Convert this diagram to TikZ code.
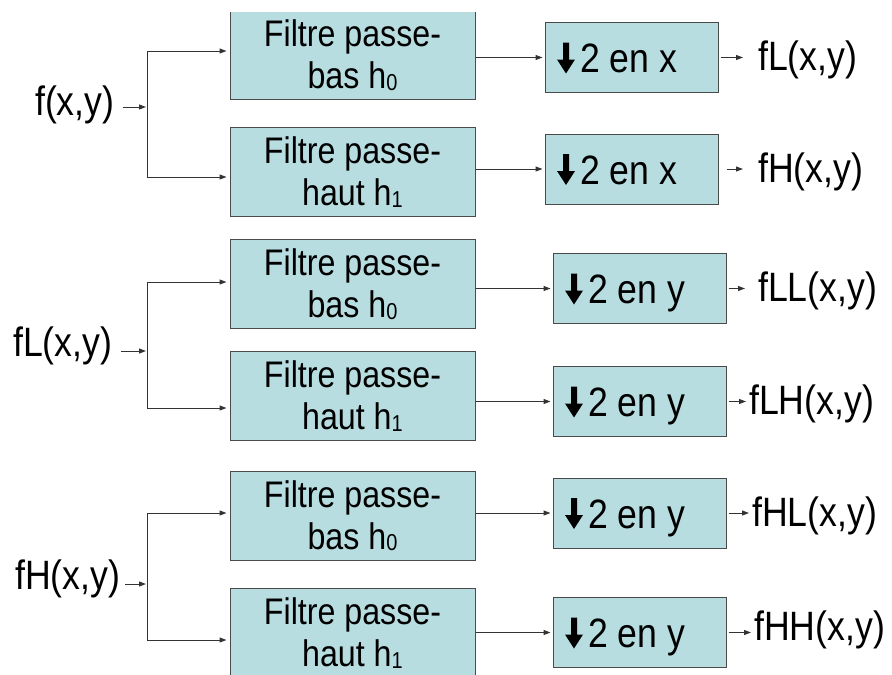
\documentclass[tikz,border=0pt]{standalone}
\usepackage{fontspec}
\setmainfont{Liberation Sans}
\newfontfamily\tallfont{Liberation Sans}[FakeStretch=0.87]
\usetikzlibrary{arrows.meta}
\definecolor{boxfill}{HTML}{B7DDE1}
\definecolor{boxline}{HTML}{4A4A4A}
\definecolor{wirecol}{HTML}{333333}
\newcommand{\dnarr}{\tikz[baseline=0pt]\fill[black] (-3pt,30pt) -- (3pt,30pt) -- (3pt,13pt) -- (9pt,13pt) -- (0pt,-1pt) -- (-9pt,13pt) -- (-3pt,13pt) -- cycle;}
\newcommand{\lowsub}[1]{\raisebox{-1.5pt}{\fontsize{23}{23}\selectfont #1}}
\newcommand{\dstext}[1]{\makebox[149pt][l]{\dnarr\hspace{5pt}#1}}
\begin{document}
\begin{tikzpicture}[x=1pt,y=-1pt,
  filt/.style={draw=boxline, fill=boxfill, line width=1pt, minimum width=245pt, minimum height=89pt, inner sep=0pt, align=center, font=\tallfont\fontsize{37}{42}\selectfont},
  down/.style={draw=boxline, fill=boxfill, line width=1pt, minimum width=173pt, minimum height=70pt, inner sep=0pt, font=\tallfont\fontsize{41}{44}\selectfont, text height=30pt, text depth=0pt},
  lab/.style={inner sep=0pt, font=\tallfont\fontsize{41}{44}\selectfont, anchor=west},
  wire/.style={draw=wirecol, line width=1pt},
  arr/.style={wire, -{Triangle[length=7pt,width=5pt]}}]
\useasboundingbox (0,0) rectangle (892,675);
\begin{scope}
\clip (0,12) rectangle (892,675);
% filters
\node[filt] (f1) at (352.5,55) {Filtre passe-\\bas h\lowsub{0}};
\node[filt] (f2) at (352.5,172) {Filtre passe-\\haut h\lowsub{1}};
\node[filt] (f3) at (352.5,284) {Filtre passe-\\bas h\lowsub{0}};
\node[filt] (f4) at (352.5,396) {Filtre passe-\\haut h\lowsub{1}};
\node[filt] (f5) at (352.5,515.5) {Filtre passe-\\bas h\lowsub{0}};
\node[filt] (f6) at (352.5,633) {Filtre passe-\\haut h\lowsub{1}};
\end{scope}
% downsamplers
\node[down] (d1) at (631.5,57.5) {\dstext{2 en x}};
\node[down] (d2) at (631.5,169) {\dstext{2 en x}};
\node[down] (d3) at (639.5,288.5) {\dstext{2 en y}};
\node[down] (d4) at (639.5,401.5) {\dstext{2 en y}};
\node[down] (d5) at (639.5,513) {\dstext{2 en y}};
\node[down] (d6) at (639.5,632.5) {\dstext{2 en y}};
% input labels
\node[lab] (in1) at (35,105) {f(x,y)};
\node[lab] (in2) at (13,346) {fL(x,y)};
\node[lab] (in3) at (15,579) {fH(x,y)};
% output labels
\node[lab] (o1) at (758,60) {fL(x,y)};
\node[lab] (o2) at (758,172) {fH(x,y)};
\node[lab] (o3) at (758,291) {fLL(x,y)};
\node[lab] (o4) at (749,404) {fLH(x,y)};
\node[lab] (o5) at (752,516) {fHL(x,y)};
\node[lab] (o6) at (754,630) {fHH(x,y)};
% branch points
\coordinate (j1) at (147,107);
\coordinate (b1) at (147,51);
\coordinate (b2) at (147,177);
\coordinate (j2) at (147,351);
\coordinate (b3) at (147,282);
\coordinate (b4) at (147,408);
\coordinate (j3) at (147,584);
\coordinate (b5) at (147,513);
\coordinate (b6) at (147,640);
% input arrows
\draw[arr, shorten <=8pt, shorten >=1pt] (in1.east|-j1) -- (j1);
\draw[arr, shorten <=9pt, shorten >=1pt] (in2.east|-j2) -- (j2);
\draw[arr, shorten <=5pt, shorten >=1pt] (in3.east|-j3) -- (j3);
% branches
\draw[wire] (b1) -- (b2);
\draw[wire] (b3) -- (b4);
\draw[wire] (b5) -- (b6);
\draw[arr, shorten >=3pt] (b1) -- (f1.west|-b1);
\draw[arr, shorten >=3pt] (b2) -- (f2.west|-b2);
\draw[arr, shorten >=3pt] (b3) -- (f3.west|-b3);
\draw[arr, shorten >=3pt] (b4) -- (f4.west|-b4);
\draw[arr, shorten >=3pt] (b5) -- (f5.west|-b5);
\draw[arr, shorten >=3pt] (b6) -- (f6.west|-b6);
% filter -> downsample
\draw[arr, shorten >=2pt] (f1.east|-d1) -- (d1.west);
\draw[arr, shorten >=2pt] (f2.east|-d2) -- (d2.west);
\draw[arr, shorten >=2pt] (f3.east|-d3) -- (d3.west);
\draw[arr, shorten >=2pt] (f4.east|-d4) -- (d4.west);
\draw[arr, shorten >=2pt] (f5.east|-d5) -- (d5.west);
\draw[arr, shorten >=2pt] (f6.east|-d6) -- (d6.west);
% outputs
\draw[arr, shorten <=2pt, shorten >=15pt] (d1.east) -- (o1.west|-d1);
\draw[arr, shorten <=8pt, shorten >=15pt] (d2.east) -- (o2.west|-d2);
\draw[arr, shorten <=2pt, shorten >=13pt] (d3.east) -- (o3.west|-d3);
\draw[arr, shorten <=2pt, shorten >=3pt] (d4.east) -- (o4.west|-d4);
\draw[arr, shorten <=2pt, shorten >=3pt] (d5.east) -- (o5.west|-d5);
\draw[arr, shorten <=2pt, shorten >=3pt] (d6.east) -- (o6.west|-d6);
\end{tikzpicture}
\end{document}
